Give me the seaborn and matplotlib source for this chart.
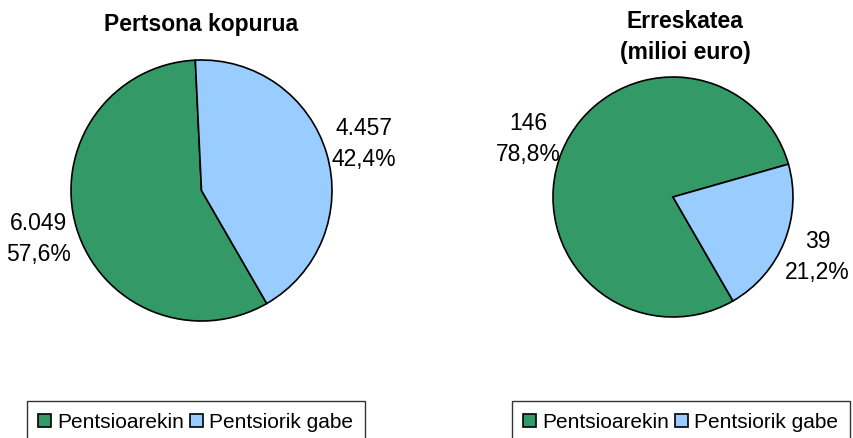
import matplotlib
matplotlib.use("Agg")
import matplotlib.pyplot as plt
import seaborn as sns

# Data
categories = ["Pentsioarekin", "Pentsiorik gabe"]
persons = [6049, 4457]
persons_labels = ["6.049\n57,6%", "4.457\n42,4%"]
ransom = [146, 39]
ransom_labels = ["146\n78,8%", "39\n21,2%"]

colors = ["#339966", "#99ccff"]

sns.set_theme(style="white")
plt.rcParams['font.family'] = ['Liberation Sans', 'DejaVu Sans']
plt.rcParams['text.color'] = 'black'

W, H = 854, 439
fig = plt.figure(figsize=(W / 100, H / 100), dpi=100)
fig.patch.set_facecolor("white")


def draw_pie(box, values, labels, title, title_xy, legend_xy):
    ax = fig.add_axes(box)
    wedges, texts = ax.pie(
        values, labels=labels, colors=colors, startangle=-60,
        counterclock=False, labeldistance=1.3,
        wedgeprops=dict(edgecolor="black", linewidth=1.2),
        textprops=dict(fontsize=16.5, color="black"),
    )
    for t in texts:
        t.set_ha("center")
        t.set_va("center")
        t.set_multialignment("center")
        t.set_linespacing(1.45)
    ax.set_xlim(-1.0, 1.0)
    ax.set_ylim(-1.0, 1.0)
    ax.set_aspect("equal")
    ax.axis("off")
    fig.text(title_xy[0], title_xy[1], title, ha="center", va="center",
             fontsize=16.5, fontweight="bold", linespacing=1.4, color="black")
    leg = fig.legend(wedges, categories, loc="upper left",
                     bbox_to_anchor=legend_xy, ncol=2, frameon=True,
                     fancybox=False, edgecolor="black", fontsize=15,
                     handlelength=0.6, handleheight=0.6, handletextpad=0.3,
                     columnspacing=0.3, borderpad=0.55, borderaxespad=0)
    leg.get_frame().set_linewidth(1.0)
    for t in leg.get_texts():
        t.set_color("black")
    return ax


# left pie: centre (201, 192) px, radius 130 px
draw_pie([71 / W, 1 - 322 / H, 261 / W, 261 / H], persons, persons_labels,
         "Pertsona kopurua", (201 / W, 1 - 25 / H), (27 / W, 1 - 402 / H))

# right pie: centre (673, 198) px, radius 120 px
draw_pie([553 / W, 1 - 318 / H, 240 / W, 240 / H], ransom, ransom_labels,
         "Erreskatea\n(milioi euro)", (685 / W, 1 - 37 / H), (512 / W, 1 - 402 / H))

fig.savefig("out.png", dpi=100)
